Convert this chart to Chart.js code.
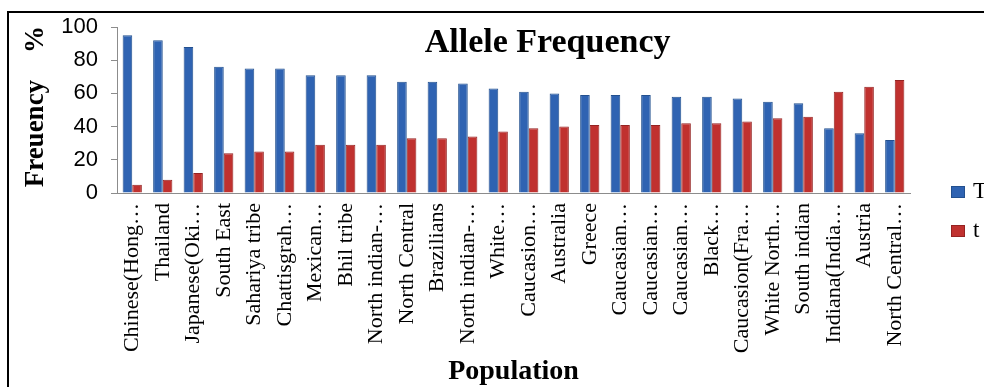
<!DOCTYPE html>
<html>
<head>
<meta charset="utf-8">
<script src="https://cdn.jsdelivr.net/npm/chart.js@4/dist/chart.umd.min.js"></script>
<style>
  html, body { margin: 0; padding: 0; background: #fff; overflow: hidden; }
  #frame {
    position: absolute; left: 7px; top: 11px;
    width: 1000px; height: 400px;
    border: 2px solid #000;
  }
  #wrap { position: absolute; left: 0; top: 0; width: 975px; height: 374px; }
</style>
</head>
<body>
<div id="frame">
  <div id="wrap"><canvas id="chart"></canvas></div>
</div>
<script>
// ---------------------------------------------
// DATOS
// ---------------------------------------------
const poblaciones = [
  "Chinese(Hong…", "Thailand", "Japanese(Oki…", "South East", "Sahariya tribe",
  "Chattisgrah…", "Mexican…", "Bhil tribe", "North indian-…", "North Central",
  "Brazilians", "North indian-…", "White…", "Caucasion…", "Australia",
  "Greece", "Caucasian…", "Caucasian…", "Caucasian…", "Black…",
  "Caucasion(Fra…", "White North…", "South indian", "Indiana(India…", "Austria",
  "North Central…"
];
const alelo_T = [95, 92, 88, 76, 75, 75, 71, 71, 71, 67, 67, 66, 63, 61, 60, 59, 59, 59, 58, 58, 57, 55, 54, 39, 36, 32];
const alelo_t = [5, 8, 12, 24, 25, 25, 29, 29, 29, 33, 33, 34, 37, 39, 40, 41, 41, 41, 42, 42, 43, 45, 46, 61, 64, 68];
const ticksY = [0, 20, 40, 60, 80, 100];

const serif = "'Liberation Serif', 'Times New Roman', serif";
const sans = "'Liberation Sans', Arial, sans-serif";

// titulo superpuesto sobre el area del grafico (como en Excel)
const tituloPlugin = {
  id: "tituloOverlay",
  afterDraw(chart) {
    const ctx = chart.ctx;
    const a = chart.chartArea;
    ctx.save();
    ctx.fillStyle = "#000";
    ctx.font = "bold 34px " + serif;
    ctx.textAlign = "center";
    ctx.textBaseline = "middle";
    ctx.fillText("Allele Frequency", a.left + (a.right - a.left) * 0.543, a.top + 16);
    ctx.restore();
  }
};

// leyenda a la derecha
const leyendaPlugin = {
  id: "leyendaDerecha",
  afterDraw(chart) {
    const ctx = chart.ctx;
    const a = chart.chartArea;
    ctx.save();
    ctx.font = "23px " + serif;
    ctx.textBaseline = "middle";
    chart.data.datasets.forEach((ds, i) => {
      const x = a.right + 41;
      const y = a.top + 165 + i * 39;
      ctx.fillStyle = ds.backgroundColor;
      ctx.fillRect(x, y - 6, 14, 12);
      ctx.strokeStyle = ds.borderColor;
      ctx.lineWidth = 1;
      ctx.strokeRect(x + 0.5, y - 5.5, 13, 11);
      ctx.fillStyle = "#000";
      ctx.fillText(ds.label, x + 22, y);
    });
    ctx.restore();
  }
};

new Chart(document.getElementById("chart"), {
  type: "bar",
  data: {
    labels: poblaciones,
    datasets: [
      {
        label: "T",
        data: alelo_T,
        backgroundColor: "#2F63B2",
        borderColor: "#23508F",
        borderWidth: 1
      },
      {
        label: "t",
        data: alelo_t,
        backgroundColor: "#C0312F",
        borderColor: "#952322",
        borderWidth: 1
      }
    ]
  },
  options: {
    responsive: true,
    maintainAspectRatio: false,
    animation: false,
    datasets: { bar: { categoryPercentage: 0.63, barPercentage: 1.0 } },
    layout: { padding: { top: 14, right: 74, left: 0, bottom: 0 } },
    plugins: {
      legend: { display: false },
      title: { display: false },
      tooltip: { enabled: false }
    },
    scales: {
      x: {
        grid: { display: false },
        border: { display: true, color: "#8C8C8C", width: 1 },
        ticks: {
          color: "#000",
          font: { family: serif, size: 22 },
          minRotation: 90,
          maxRotation: 90,
          autoSkip: false,
          padding: 2
        },
        title: {
          display: true,
          text: "Population",
          color: "#000",
          font: { family: serif, size: 28, weight: "bold", lineHeight: 1 },
          padding: { top: 0, bottom: 1 }
        },
        afterFit(scale) { scale.height = 194; }
      },
      y: {
        min: 0,
        max: 100,
        afterBuildTicks(scale) { scale.ticks = ticksY.map(v => ({ value: v })); },
        grid: {
          drawOnChartArea: false,
          drawTicks: true,
          tickLength: 6,
          color: "#8C8C8C"
        },
        border: { display: true, color: "#8C8C8C", width: 1 },
        ticks: {
          color: "#000",
          font: { family: sans, size: 22 },
          padding: 13
        },
        title: {
          display: true,
          text: " Freuency    %",
          color: "#000",
          font: { family: serif, size: 27, weight: "bold", lineHeight: 1.2 },
          padding: { top: 11, bottom: 0 }
        },
        afterFit(scale) {
          scale.width = 108;
          // evitar que el padding de las etiquetas empuje el area hacia abajo
          scale.paddingTop = 10;
          scale.paddingBottom = 10;
        }
      }
    }
  },
  plugins: [tituloPlugin, leyendaPlugin]
});
</script>
</body>
</html>
